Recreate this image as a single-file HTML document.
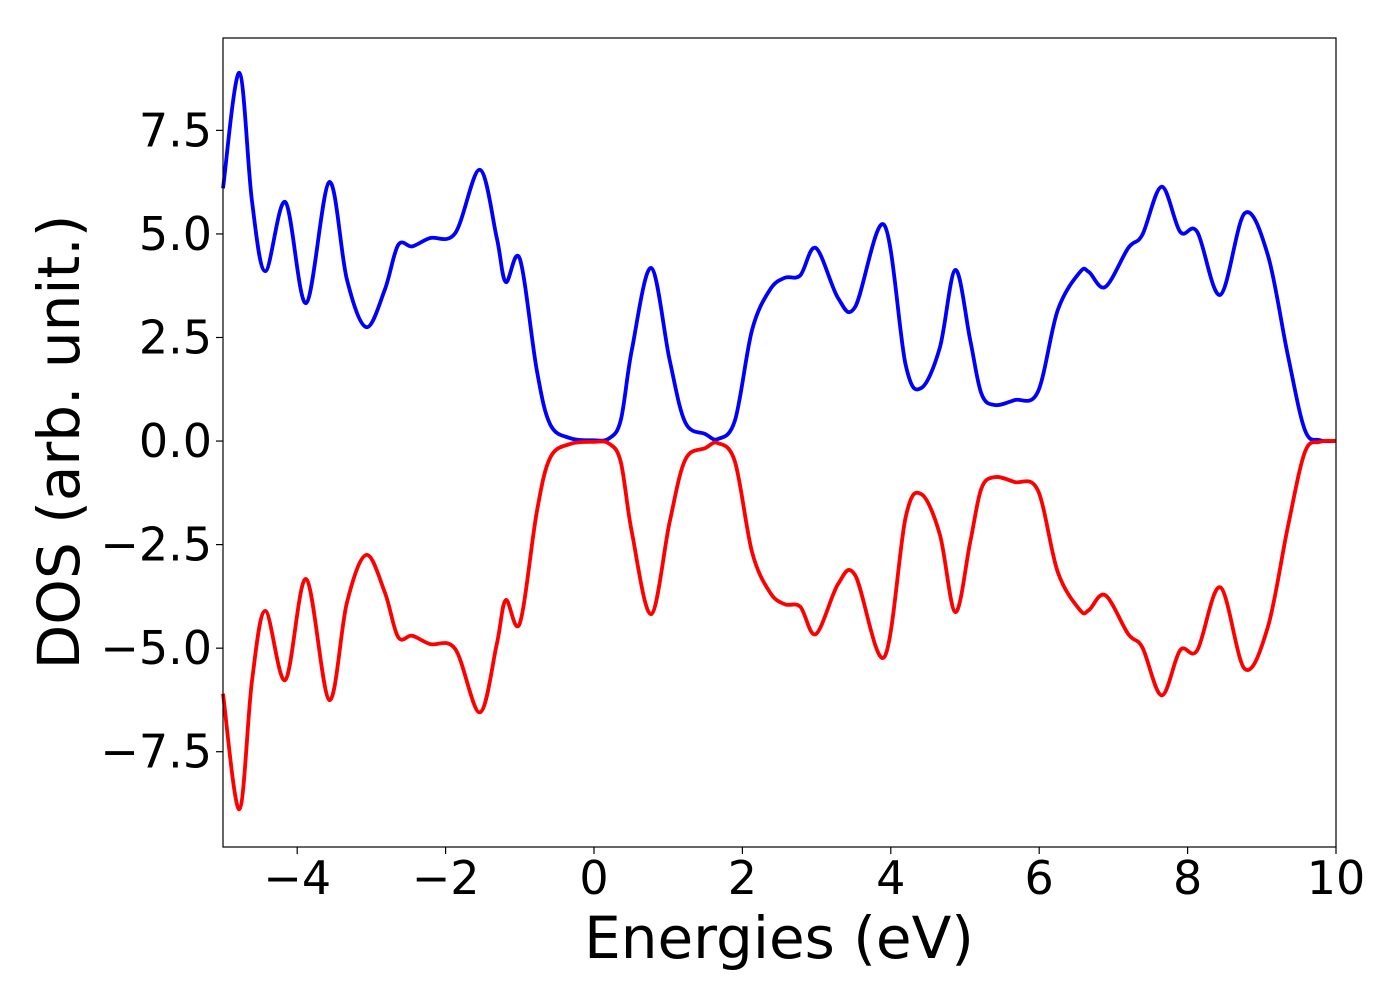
<!DOCTYPE html>
<html><head><meta charset="utf-8"><style>
html,body{margin:0;padding:0;background:#fff;}
svg{display:block;font-family:"DejaVu Sans","Liberation Sans",sans-serif;}
</style></head><body>
<svg id="chart" width="1400" height="1000">
<g id="plot"></g>
</svg>
<script>
const energies=[-5.0,-4.78,-4.61,-4.43,-4.16,-3.88,-3.57,-3.33,-3.07,-2.82,-2.64,-2.45,-2.21,-1.87,-1.54,-1.31,-1.19,-1.0,-0.77,-0.59,-0.32,0,0.2,0.36,0.51,0.77,1.02,1.23,1.5,1.67,1.9,2.13,2.37,2.57,2.78,2.99,3.29,3.52,3.91,4.2,4.41,4.66,4.87,5.07,5.22,5.4,5.67,5.98,6.25,6.55,6.67,6.89,7.2,7.39,7.65,7.9,8.13,8.44,8.77,9.08,9.35,9.58,9.78,10];
const dosUp=[6.1,8.89,5.8,4.1,5.77,3.33,6.25,3.9,2.75,3.65,4.73,4.7,4.9,5.02,6.55,4.9,3.84,4.4,1.7,0.4,0.07,0.02,0.06,0.5,2.2,4.18,1.95,0.45,0.17,0.05,0.5,2.68,3.65,3.94,4.0,4.66,3.45,3.24,5.22,1.84,1.28,2.25,4.13,2.44,1.15,0.87,0.99,1.18,3.16,4.08,4.08,3.72,4.66,4.98,6.14,5.05,5.05,3.53,5.5,4.5,2.08,0.27,0.02,0];
const dosDown=dosUp.map(v=>-v);
const xTicks=[-4,-2,0,2,4,6,8,10];
const yTicks=[-7.5,-5.0,-2.5,0.0,2.5,5.0,7.5];
const yTickLabels=["\u22127.5","\u22125.0","\u22122.5","0.0","2.5","5.0","7.5"];
const L=223,R=1336,T=38,B=847,xmin=-5,xmax=10,ymin=-9.8,ymax=9.73;
const X=v=>L+(v-xmin)/(xmax-xmin)*(R-L);
const Y=v=>B-(v-ymin)/(ymax-ymin)*(B-T);
const NS="http://www.w3.org/2000/svg";
const g=document.getElementById('plot');
function mk(tag,attrs){const e=document.createElementNS(NS,tag);for(const k in attrs)e.setAttribute(k,attrs[k]);g.appendChild(e);return e;}
function pathFor(xs,ys){
  const p=xs.map((x,i)=>[X(x),Y(ys[i])]);
  let d=`M${p[0][0]},${p[0][1]}`;
  for(let i=0;i<p.length-1;i++){
    const p0=p[Math.max(0,i-1)],p1=p[i],p2=p[i+1],p3=p[Math.min(p.length-1,i+2)];
    const c1=[p1[0]+(p2[0]-p0[0])/6,p1[1]+(p2[1]-p0[1])/6];
    const c2=[p2[0]-(p3[0]-p1[0])/6,p2[1]-(p3[1]-p1[1])/6];
    d+=`C${c1[0]},${c1[1]} ${c2[0]},${c2[1]} ${p2[0]},${p2[1]}`;
  }
  return d;
}
const up=mk('path',{d:pathFor(energies,dosUp),fill:'none',stroke:'#0000ff','stroke-width':3.8});


const dn=mk('path',{d:pathFor(energies,dosDown),fill:'none',stroke:'#ff0000','stroke-width':3.8});


const fr=mk('rect',{x:L,y:T,width:R-L,height:B-T,fill:'none',stroke:'#000','stroke-width':1.2});


xTicks.forEach(v=>{
  const t=mk('line',{x1:X(v),x2:X(v),y1:B,y2:B+7,stroke:'#000','stroke-width':1.2});
  
  
  const s=mk('text',{x:X(v),y:894,'font-size':46,'text-anchor':'middle'});
  s.textContent=v<0?'\u2212'+(-v):String(v);
  
  
});
yTicks.forEach((v,i)=>{
  const t=mk('line',{x1:L-7,x2:L,y1:Y(v),y2:Y(v),stroke:'#000','stroke-width':1.2});
  
  
  const s=mk('text',{x:212,y:Y(v)+16,'font-size':46,'text-anchor':'end'});
  s.textContent=yTickLabels[i];
  
  
});
const xl=mk('text',{x:779,y:958,'font-size':58,'text-anchor':'middle'});
xl.textContent='Energies (eV)';


const yl=mk('text',{x:0,y:0,'font-size':58,'text-anchor':'middle',transform:'translate(79,442) rotate(-90)'});
yl.textContent='DOS (arb. unit.)';


</script>
</body></html>
